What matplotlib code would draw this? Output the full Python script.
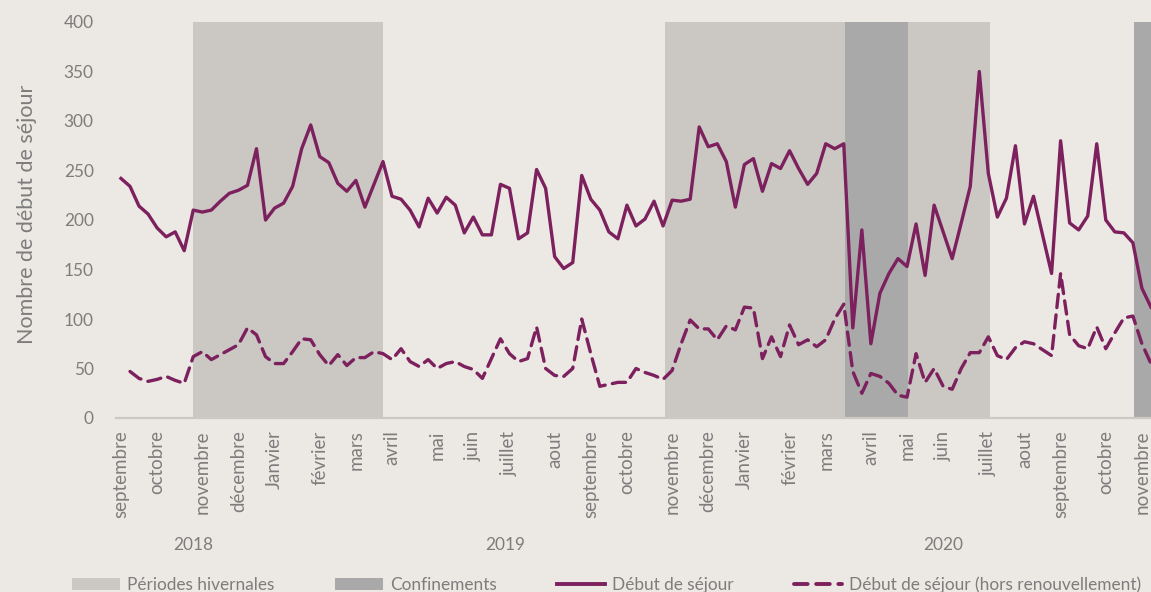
import matplotlib
matplotlib.use('Agg')
import matplotlib.pyplot as plt
from matplotlib.patches import Patch
from matplotlib.lines import Line2D
import numpy as np

plt.rcParams['font.family'] = ['Lato', 'DejaVu Sans']

# weekly series, week 0 = first week of september 2018
debut_sejour = [242, 234, 214, 206, 192, 183, 188, 169, 210, 208,
                210, 219, 227, 230, 235, 272, 200, 212, 217, 234,
                272, 296, 264, 258, 237, 229, 240, 213, 236, 259,
                224, 221, 210, 193, 222, 207, 223, 215, 187, 203,
                185, 185, 236, 232, 181, 187, 251, 232, 163, 151,
                157, 245, 221, 210, 188, 181, 215, 194, 201, 219,
                194, 220, 219, 221, 294, 274, 277, 259, 213, 256,
                262, 229, 257, 252, 270, 252, 236, 247, 277, 272,
                277, 91, 190, 75, 126, 146, 161, 153, 196, 144,
                215, 188, 161, 197, 234, 350, 247, 203, 222, 275,
                196, 224, 185, 146, 280, 197, 190, 204, 277, 200,
                188, 187, 177, 131, 112]

hors_renouvellement = [np.nan, 47, 40, 37, 39, 42, 38, 35, 62, 67,
                       59, 64, 69, 74, 91, 84, 62, 55, 55, 67,
                       80, 79, 64, 53, 64, 53, 61, 61, 67, 65,
                       59, 70, 57, 52, 59, 50, 55, 57, 52, 49,
                       40, 60, 80, 65, 57, 60, 92, 50, 43, 42,
                       50, 100, 65, 32, 34, 36, 36, 50, 46, 43,
                       39, 48, 75, 99, 90, 90, 79, 93, 89, 112,
                       111, 60, 82, 62, 94, 74, 79, 72, 79, 100,
                       115, 47, 25, 45, 42, 35, 23, 21, 65, 36,
                       50, 32, 29, 50, 66, 66, 82, 63, 59, 71,
                       77, 75, 69, 63, 146, 84, 73, 70, 92, 70,
                       86, 101, 103, 75, 55]

# month labels (week index where each month starts)
month_pos = [0, 4, 9, 13, 17, 22, 26, 30, 35, 39, 43, 48, 52,
             56, 61, 65, 69, 74, 78, 83, 87, 91, 96, 100, 104, 109, 113]
month_labels = ['septembre', 'octobre', 'novembre', 'décembre', 'Janvier',
                'février', 'mars', 'avril', 'mai', 'juin', 'juillet', 'aout',
                'septembre', 'octobre', 'novembre', 'décembre', 'Janvier',
                'février', 'mars', 'avril', 'mai', 'juin', 'juillet', 'aout',
                'septembre', 'octobre', 'novembre']

years = ['2018', '2019', '2020']
year_pos = [8, 42.5, 91]

# periods, in week index
hiver = [(8, 29), (60.2, 96.2)]
confinement = [(80.1, 87.1), (112.1, 125)]

bg = '#ece8e3'
c_hiver = '#cbc8c4'
c_conf = '#a9a9a9'
c_line = '#7c205e'
c_text = '#7d7d7d'

fig = plt.figure(figsize=(11.51, 5.92), dpi=100, facecolor=bg)
ax = fig.add_axes([116 / 1151, 174 / 592, 1035 / 1151, 396 / 592])
ax.set_facecolor(bg)

x = np.arange(len(debut_sejour))

for a, b in hiver:
    ax.axvspan(a, b, color=c_hiver, lw=0, zorder=0)
for a, b in confinement:
    ax.axvspan(a, b, color=c_conf, lw=0, zorder=1)

ax.plot(x, debut_sejour, color=c_line, lw=2.4, solid_joinstyle='round', zorder=3)
ax.plot(x, hors_renouvellement, color=c_line, lw=2.4, dashes=(4, 2.2),
        dash_capstyle='round', zorder=3)

ax.set_ylim(0, 400)
ax.set_xlim(-0.55, -0.55 + 1035 / 9.035)
ax.set_yticks(np.arange(0, 401, 50))
ax.set_xticks(month_pos)
ax.set_xticklabels(month_labels, rotation=90, va='top')
ax.tick_params(axis='y', length=0, pad=16, labelsize=12.4, labelcolor=c_text)
ax.tick_params(axis='x', length=0, pad=9, labelsize=13.5, labelcolor=c_text)

for s in ['top', 'right', 'left']:
    ax.spines[s].set_visible(False)
ax.spines['bottom'].set_color('#ccc8c3')
ax.spines['bottom'].set_linewidth(1.6)

ax.set_ylabel('Nombre de début de séjour', fontsize=15.5, color=c_text)
ax.yaxis.set_label_coords(-0.0763, 0.515)

for yl, xp in zip(years, year_pos):
    ax.text(xp, -128, yl, ha='center', va='center', fontsize=12.4, color=c_text,
            clip_on=False)

handles = [Patch(facecolor=c_hiver, edgecolor='none'),
           Patch(facecolor=c_conf, edgecolor='none'),
           Line2D([], [], color=c_line, lw=2.8),
           Line2D([], [], color=c_line, lw=2.8, dashes=(3.5, 2.2), dash_capstyle='round')]
labels = ['Périodes hivernales', 'Confinements', 'Début de séjour',
          'Début de séjour (hors renouvellement)']
leg = fig.legend(handles, labels, loc='center left', bbox_to_anchor=(72 / 1151, 7 / 592),
                 ncol=4, frameon=False, fontsize=12.4, handlelength=2.8,
                 handletextpad=0.4, columnspacing=3.5, borderaxespad=0, borderpad=0)
for t in leg.get_texts():
    t.set_color(c_text)

fig.savefig('out.png', dpi=100, facecolor=bg)
